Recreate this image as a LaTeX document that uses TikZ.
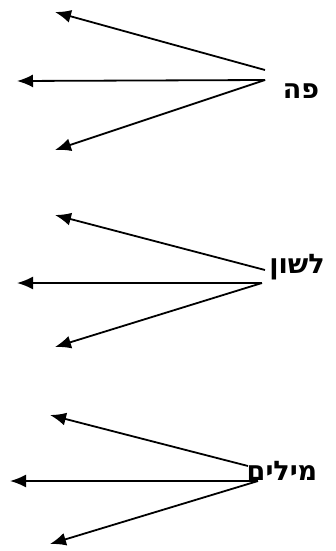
\documentclass[tikz,border=0pt]{standalone}
\usepackage{fontspec}
\newfontfamily\hebfont[Script=Hebrew]{DejaVu Sans}
\TeXXeTstate=1
\usetikzlibrary{arrows.meta}
\begin{document}
\begin{tikzpicture}[x=1pt,y=-1pt,>={Latex[length=16pt,width=13pt]},line width=1.8pt,
    lbl/.style={font=\hebfont\bfseries\fontsize{27}{29}\selectfont,inner sep=0pt}]
    \useasboundingbox (0,0) rectangle (335,551);
    % labels
    \node[lbl] (pe) at (301,91) {\beginR פה\endR};
    \node[lbl] (lashon) at (297,267) {\beginR לשון\endR};
    \node[lbl] (milim) at (282,471) {\beginR מילים\endR};
    % start and end points
    \coordinate (s1a) at (265,70);  \coordinate (s1b) at (265,80);
    \coordinate (s2a) at (265,270); \coordinate (s2b) at (262,283);
    \coordinate (s3a) at (248,466); \coordinate (s3b) at (258,481);
    \coordinate (t1a) at (55,12);   \coordinate (t1b) at (17,81);  \coordinate (t1c) at (55,150);
    \coordinate (t2a) at (55,215);  \coordinate (t2b) at (17,283); \coordinate (t2c) at (55,347);
    \coordinate (t3a) at (50,415);  \coordinate (t3b) at (10,481); \coordinate (t3c) at (50,544);
    \foreach \i in {1,2,3} {
        \draw[->] (s\i a) -- (t\i a);
        \draw[->] (s\i b) -- (t\i b);
        \draw[->] (s\i b) -- (t\i c);
    }
\end{tikzpicture}
\end{document}
